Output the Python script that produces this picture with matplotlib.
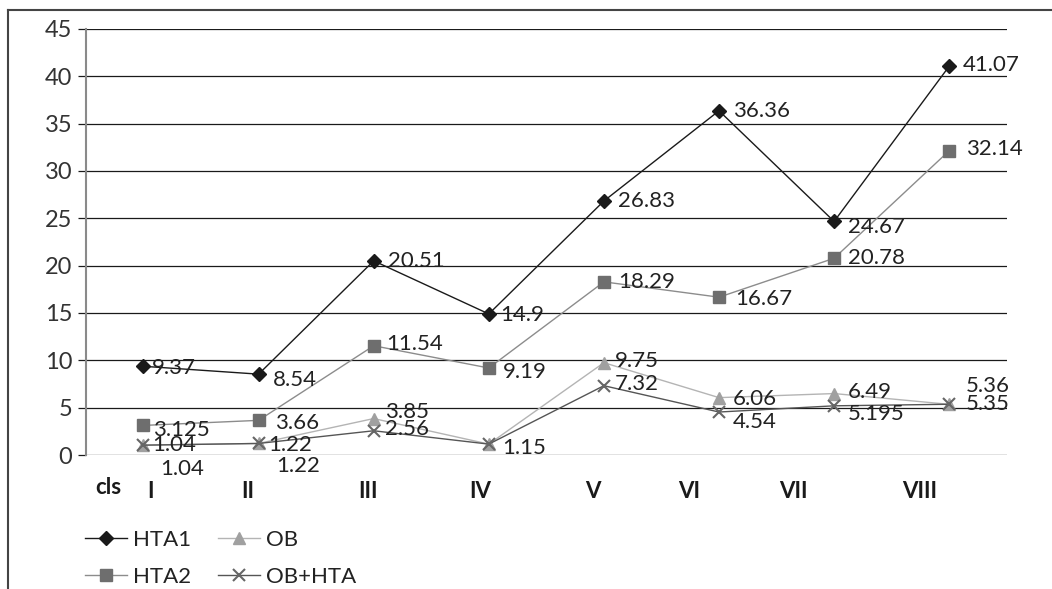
import numpy as np
import matplotlib.pyplot as plt
from matplotlib.lines import Line2D

plt.rcParams['font.family'] = ['Lato', 'DejaVu Sans']

# data
cats = ["I", "II", "III", "IV", "V", "VI", "VII", "VIII"]
hta1 = [9.37, 8.54, 20.51, 14.9, 26.83, 36.36, 24.67, 41.07]
hta2 = [3.125, 3.66, 11.54, 9.19, 18.29, 16.67, 20.78, 32.14]
ob = [1.04, 1.22, 3.85, 1.15, 9.75, 6.06, 6.49, 5.35]
obhta = [1.04, 1.22, 2.56, 1.15, 7.32, 4.54, 5.195, 5.36]
yticks = [0, 5, 10, 15, 20, 25, 30, 35, 40, 45]

# category label positions (the table row under the chart is not aligned with points)
cat_pos = [0.06, 0.91, 1.95, 2.93, 3.90, 4.74, 5.65, 6.74]

x = np.arange(len(cats))

fig = plt.figure(figsize=(10.52, 5.89), dpi=100)
ax = fig.add_axes([0.0817, 0.2275, 0.8753, 0.7233])

ax.plot(x, hta1, color="#1a1a1a", lw=1.0, marker="D", ms=7, mfc="#1a1a1a", mec="#1a1a1a", label="HTA1", zorder=5)
ax.plot(x, hta2, color="#8c8c8c", lw=1.0, marker="s", ms=8, mfc="#6e6e6e", mec="#6e6e6e", label="HTA2", zorder=4)
ax.plot(x, ob, color="#b4b4b4", lw=1.0, marker="^", ms=9, mfc="#a0a0a0", mec="#a0a0a0", label="OB", zorder=3)
ax.plot(x, obhta, color="#555555", lw=1.0, marker="x", ms=9, mew=1.5, mec="#666666", label="OB+HTA", zorder=6)

# data labels, (dx, dy) offsets in points
def lab(vals, offs, skip=()):
    for i, v in enumerate(vals):
        if i in skip:
            continue
        dx, dy = offs.get(i, (10, 0))
        ax.annotate(f"{v:g}", (x[i], v), xytext=(dx, dy), textcoords="offset points",
                    ha="left", va="center", fontsize=16, color="#222222", zorder=10)

lab(hta1, {0: (6, -1), 1: (10, -4), 3: (8, -1), 6: (10, -4), 7: (10, 1)})
lab(hta2, {0: (7, -3), 1: (12, -2), 2: (9, 1), 3: (10, -3), 5: (12, -1), 7: (12, 1)})
lab(ob, {0: (12, -17), 1: (13, -16), 2: (8, 5), 4: (8, 1), 5: (10, -1), 6: (10, 1), 7: (12, 0)}, skip=(3,))
lab(obhta, {0: (6, 0), 1: (7, -1), 2: (8, 1), 3: (10, -3), 4: (8, 1), 5: (10, -7), 6: (10, -6), 7: (12, 13)})

ax.set_xlim(-0.5, 7.5)
ax.set_ylim(0, 45)
ax.set_yticks(yticks)
ax.yaxis.grid(True, color="#1a1a1a", lw=0.9)
ax.set_axisbelow(True)
ax.tick_params(axis="y", length=6, width=0.9, color="#1a1a1a", labelsize=17, labelcolor="#333333", pad=4)
ax.set_xticks(cat_pos)
ax.set_xticklabels(cats, fontweight="bold", fontsize=16, color="#1a1a1a")
ax.tick_params(axis="x", length=0, pad=19)
ax.text(-0.42, -3.4, "cls", fontweight="bold", fontsize=16, color="#1a1a1a", ha="left", va="center")

for s in ["top", "right", "bottom"]:
    ax.spines[s].set_visible(False)
ax.spines["left"].set_color("#8a8a8a")
ax.spines["left"].set_linewidth(1.5)

leg = fig.legend(loc="lower left", bbox_to_anchor=(0.062, -0.03), ncol=2, frameon=False,
                 fontsize=16, handlelength=1.9, columnspacing=1.2, labelspacing=0.75,
                 handletextpad=0.25)
for t in leg.get_texts():
    t.set_color("#222222")

# outer frame (top and left edges visible)
fig.add_artist(Line2D([0.0076, 1.0], [0.983, 0.983], color="#444444", lw=1.5, transform=fig.transFigure))
fig.add_artist(Line2D([0.0076, 0.0076], [0.0, 0.983], color="#444444", lw=1.5, transform=fig.transFigure))

fig.savefig("out.png", dpi=100)
